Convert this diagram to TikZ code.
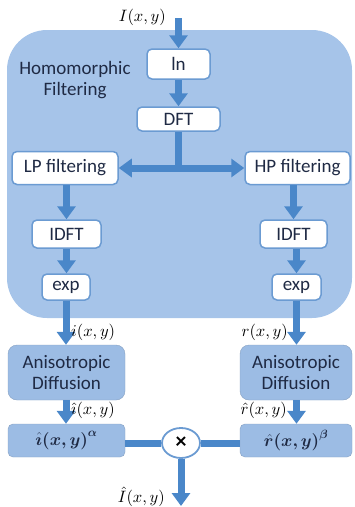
\documentclass[tikz,border=0pt]{standalone}
\usepackage{fontspec}
\setsansfont{Carlito}
\usepackage{amsmath,bm,graphicx}
\usetikzlibrary{arrows.meta,shapes.geometric}
\definecolor{bgblue}{HTML}{A6C4E9}
\definecolor{arrblue}{HTML}{4A87C9}
\definecolor{boxedge}{HTML}{6B9BD2}
\definecolor{txt}{HTML}{1F2A44}
\definecolor{adblue}{HTML}{9CBCE4}
\newcommand{\biglbl}[1]{\scalebox{1.65}{$#1$}}
\begin{document}
\begin{tikzpicture}[x=1pt,y=-1pt,
  wbox/.style={draw=boxedge,line width=1.5pt,fill=white,rounded corners=5pt,
    font=\fontsize{19}{21}\selectfont\sffamily,text=txt,inner sep=0pt},
  bbox/.style={fill=adblue,draw=adblue!85!black,line width=0.4pt,rounded corners=9pt,
    font=\fontsize{19}{21}\selectfont\sffamily,text=txt,inner sep=0pt,align=center},
  flow/.style={draw=arrblue,line width=7pt,-{Triangle[width=18pt,length=13pt]}},
  bar/.style={draw=arrblue,line width=7pt},
  lbl/.style={inner sep=0pt}]
\useasboundingbox (0,0) rectangle (355,507);
% background
\fill[bgblue,rounded corners=40pt] (7,30) rectangle (352,318);
\node[font=\fontsize{19}{21}\selectfont\sffamily,text=txt,align=center] (title) at (75,80) {Homomorphic\\Filtering};
% boxes
\node[wbox,minimum width=63pt,minimum height=30pt] (ln) at (178.5,64) {ln};
\node[wbox,minimum width=83pt,minimum height=24pt] (dft) at (178.5,119) {DFT};
\node[wbox,minimum width=106pt,minimum height=33pt] (lp) at (65,168) {LP filtering};
\node[wbox,minimum width=105pt,minimum height=33pt] (hp) at (297.5,168) {HP filtering};
\node[wbox,minimum width=69pt,minimum height=28pt] (idftl) at (66.5,234) {IDFT};
\node[wbox,minimum width=67pt,minimum height=28pt] (idftr) at (293.5,234) {IDFT};
\node[wbox,minimum width=48pt,minimum height=26pt] (expl) at (66,287) {exp};
\node[wbox,minimum width=49pt,minimum height=26pt] (expr) at (296.5,287) {exp};
\node[bbox,minimum width=117pt,minimum height=55pt] (adl) at (66.5,372.5) {Anisotropic\\Diffusion};
\node[bbox,minimum width=112pt,minimum height=55pt] (adr) at (296,372.5) {Anisotropic\\Diffusion};
\node[bbox,rounded corners=5pt,minimum width=117pt,minimum height=33pt,font=\fontsize{17}{19}\selectfont] (hi) at (66.5,440.5) {$\bm{\hat{\imath}(x,y)^{\alpha}}$};
\node[bbox,rounded corners=5pt,minimum width=112pt,minimum height=33pt,font=\fontsize{17}{19}\selectfont] (hr) at (296,440.5) {$\bm{\hat{r}(x,y)^{\beta}}$};
% connectors
\coordinate (in) at (178.5,18);
\coordinate (jn) at (178.5,168);
\coordinate (out) at (181,506);
\draw[flow] (in) -- (ln);
\draw[flow] (ln) -- (dft);
\draw[bar] (dft.south) -- (jn);
\draw[bar,{Triangle[width=18pt,length=13pt]}-{Triangle[width=18pt,length=13pt]}] (lp.east) -- (hp.west);
\draw[flow] (idftl.north |- lp.south) -- (idftl.north);
\draw[flow] (idftr.north |- hp.south) -- (idftr.north);
\draw[flow] (idftl.south) -- (idftl.south |- expl.north);
\draw[flow] (idftr.south -| expr.north) -- (expr.north);
\draw[flow] (expl.south) -- (expl.south |- adl.north);
\draw[flow] (expr.south) -- (expr.south |- adr.north);
\draw[flow] (expl.south |- adl.south) -- (expl.south |- hi.north);
\draw[flow] (expr.south |- adr.south) -- (expr.south |- hr.north);
\node[ellipse,draw=boxedge,line width=1.8pt,fill=white,minimum width=38pt,minimum height=30pt,inner sep=0pt,font=\fontsize{22}{24}\selectfont\sffamily\bfseries,text=black] (mult) at (181,443) {×};
\draw[bar] (hi.east |- mult) -- (mult.west);
\draw[bar] (hr.west |- mult) -- (mult.east);
\draw[flow] (mult.south) -- (out);
% labels
\node[lbl,anchor=east] (lin) at (166,17) {\biglbl{I(x,y)}};
\node[lbl,anchor=west] (li) at (71,332) {\biglbl{i(x,y)}};
\node[lbl,anchor=east] (lr) at (288,332) {\biglbl{r(x,y)}};
\node[lbl,anchor=west] (lhi) at (71,410) {\biglbl{\hat{\imath}(x,y)}};
\node[lbl,anchor=east] (lhr) at (287,410) {\biglbl{\hat{r}(x,y)}};
\node[lbl,anchor=east] (lout) at (165,497) {\biglbl{\hat{I}(x,y)}};
\end{tikzpicture}
\end{document}
